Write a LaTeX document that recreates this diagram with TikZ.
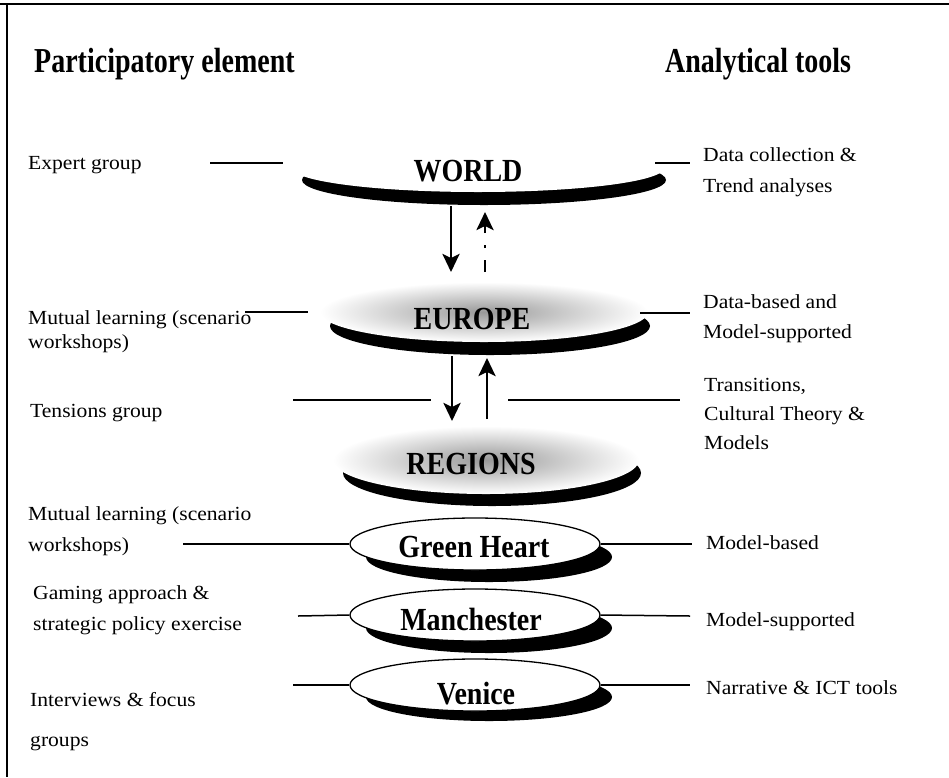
\documentclass[tikz,border=0pt]{standalone}
\usepackage{graphicx}
\usepackage{fontspec}
\setmainfont{Liberation Serif}
\newfontfamily\labfont[FakeStretch=1.08]{Liberation Serif}
\usetikzlibrary{arrows.meta,shapes.geometric}
\newcommand{\tallttl}[1]{\scalebox{1}[1.25]{#1}}
\newcommand{\talldisc}[1]{\scalebox{1}[1.15]{#1}}
\begin{document}
\begin{tikzpicture}[x=1pt,y=-1pt,
  lab/.style={anchor=base west,inner sep=0pt,font=\labfont\fontsize{20}{24}\selectfont},
  ttl/.style={anchor=base west,inner sep=0pt,font=\bfseries\fontsize{28}{32}\selectfont},
  dlab/.style={anchor=base,inner sep=0pt,font=\bfseries\fontsize{28}{32}\selectfont},
  shadowdisc/.style={ellipse,inner sep=0pt,fill=black},
  flatdisc/.style={ellipse,inner sep=0pt,fill=white},
  cloud/.style={ellipse,inner sep=0pt,shade,inner color=black!40,outer color=white},
  disc/.style={ellipse,inner sep=0pt,minimum width=250pt,minimum height=52pt,draw=black,line width=1.3pt,fill=white},
  conn/.style={line width=1.5pt},
  arr/.style={line width=2.8pt,-{Stealth[length=18pt,width=17pt,inset=4pt]}},
]
\useasboundingbox (0,0) rectangle (949,777);
\fill[white] (0,0) rectangle (949,777);
% frame
\draw[line width=2pt] (0,4) -- (949,4);
\draw[line width=2pt] (7,3) -- (7,777);

% titles
\node[ttl] (t1) at (34,72) {\tallttl{Participatory element}};
\node[ttl] (t2) at (665,72) {\tallttl{Analytical tools}};

% WORLD
\node[shadowdisc,minimum width=364pt,minimum height=50pt] (wos) at (484,180) {};
\node[flatdisc,minimum width=372pt,minimum height=48pt] (wo) at (478,168) {};
\node[dlab] (woT) at (468,181) {\talldisc{WORLD}};

% EUROPE
\node[shadowdisc,minimum width=320pt,minimum height=58pt] (eus) at (490,326) {};
\node[cloud,minimum width=328pt,minimum height=60pt] (eu) at (484,312) {};
\node[dlab] (euT) at (472,329) {\talldisc{EUROPE}};

% REGIONS
\node[shadowdisc,minimum width=298pt,minimum height=66pt] (rgs) at (492,473) {};
\node[cloud,minimum width=306pt,minimum height=68pt] (rg) at (486,460) {};
\node[dlab] (rgT) at (471,474) {\talldisc{REGIONS}};

% Green Heart
\node[shadowdisc,minimum width=246pt,minimum height=50pt] (ghs) at (489,557) {};
\node[disc] (gh) at (475,544) {};
\node[dlab] (ghT) at (474,557) {\talldisc{Green Heart}};

% Manchester
\node[shadowdisc,minimum width=246pt,minimum height=50pt] (mas) at (489,628) {};
\node[disc] (ma) at (475,615) {};
\node[dlab] (maT) at (471,630) {\talldisc{Manchester}};

% Venice
\node[shadowdisc,minimum width=246pt,minimum height=48pt] (ves) at (489,697) {};
\node[disc] (ve) at (475,685) {};
\node[dlab] (veT) at (476,704) {\talldisc{Venice}};

% left labels
\node[lab] (l1) at (28,169) {Expert group};
\node[lab] (l2) at (28,324) {Mutual learning (scenario};
\node[lab] (l2b) at (28,348) {workshops)};
\node[lab] (l3) at (30,417) {Tensions group};
\node[lab] (l4) at (28,520) {Mutual learning (scenario};
\node[lab] (l4b) at (28,551) {workshops)};
\node[lab] (l5) at (33,599) {Gaming approach \&};
\node[lab] (l5b) at (33,630) {strategic policy exercise};
\node[lab] (l6) at (30,706) {Interviews \& focus};
\node[lab] (l6b) at (30,746) {groups};

% right labels
\node[lab] (r1) at (703,161) {Data collection \&};
\node[lab] (r1b) at (703,192) {Trend analyses};
\node[lab] (r2) at (703,308) {Data-based and};
\node[lab] (r2b) at (703,338) {Model-supported};
\node[lab] (r3) at (704,391) {Transitions,};
\node[lab] (r3b) at (704,420) {Cultural Theory \&};
\node[lab] (r3c) at (704,449) {Models};
\node[lab] (r4) at (706,549) {Model-based};
\node[lab] (r5) at (706,626) {Model-supported};
\node[lab] (r6) at (706,694) {Narrative \& ICT tools};

% connector end points
\coordinate (c1a) at (210,163); \coordinate (c1b) at (283,163);
\coordinate (c2a) at (655,163); \coordinate (c2b) at (690,163);
\coordinate (c3a) at (245,312); \coordinate (c3b) at (308,312);
\coordinate (c4a) at (640,313); \coordinate (c4b) at (690,313);
\coordinate (c5a) at (293,400); \coordinate (c5b) at (431,400);
\coordinate (c6a) at (508,400); \coordinate (c6b) at (680,400);
\coordinate (c7a) at (183,544); \coordinate (c7b) at (692,544);
\coordinate (c8a) at (298,616); \coordinate (c8b) at (690,616);
\coordinate (c9a) at (293,685); \coordinate (c9b) at (690,685);

\draw[conn] (c1a) -- (c1b);
\draw[conn] (c2a) -- (c2b);
\draw[conn] (c3a) -- (c3b);
\draw[conn] (c4a) -- (c4b);
\draw[conn] (c5a) -- (c5b);
\draw[conn] (c6a) -- (c6b);
\draw[conn] (c7a) -- (gh.west);
\draw[conn] (gh.east) -- (c7b);
\draw[conn] (c8a) -- (ma.west);
\draw[conn] (ma.east) -- (c8b);
\draw[conn] (c9a) -- (ve.west);
\draw[conn] (ve.east) -- (c9b);

% arrows
\coordinate (a1s) at (451,206); \coordinate (a1e) at (451,272);
\coordinate (a2s) at (485,272); \coordinate (a2e) at (485,212);
\coordinate (a3s) at (452,356); \coordinate (a3e) at (452,421);
\coordinate (a4s) at (487,419); \coordinate (a4e) at (487,358);
\draw[arr] (a1s) -- (a1e);
\draw[arr,dash pattern=on 12pt off 12pt on 3pt off 12pt] (a2s) -- (a2e);
\draw[arr] (a3s) -- (a3e);
\draw[arr] (a4s) -- (a4e);
\end{tikzpicture}
\end{document}
